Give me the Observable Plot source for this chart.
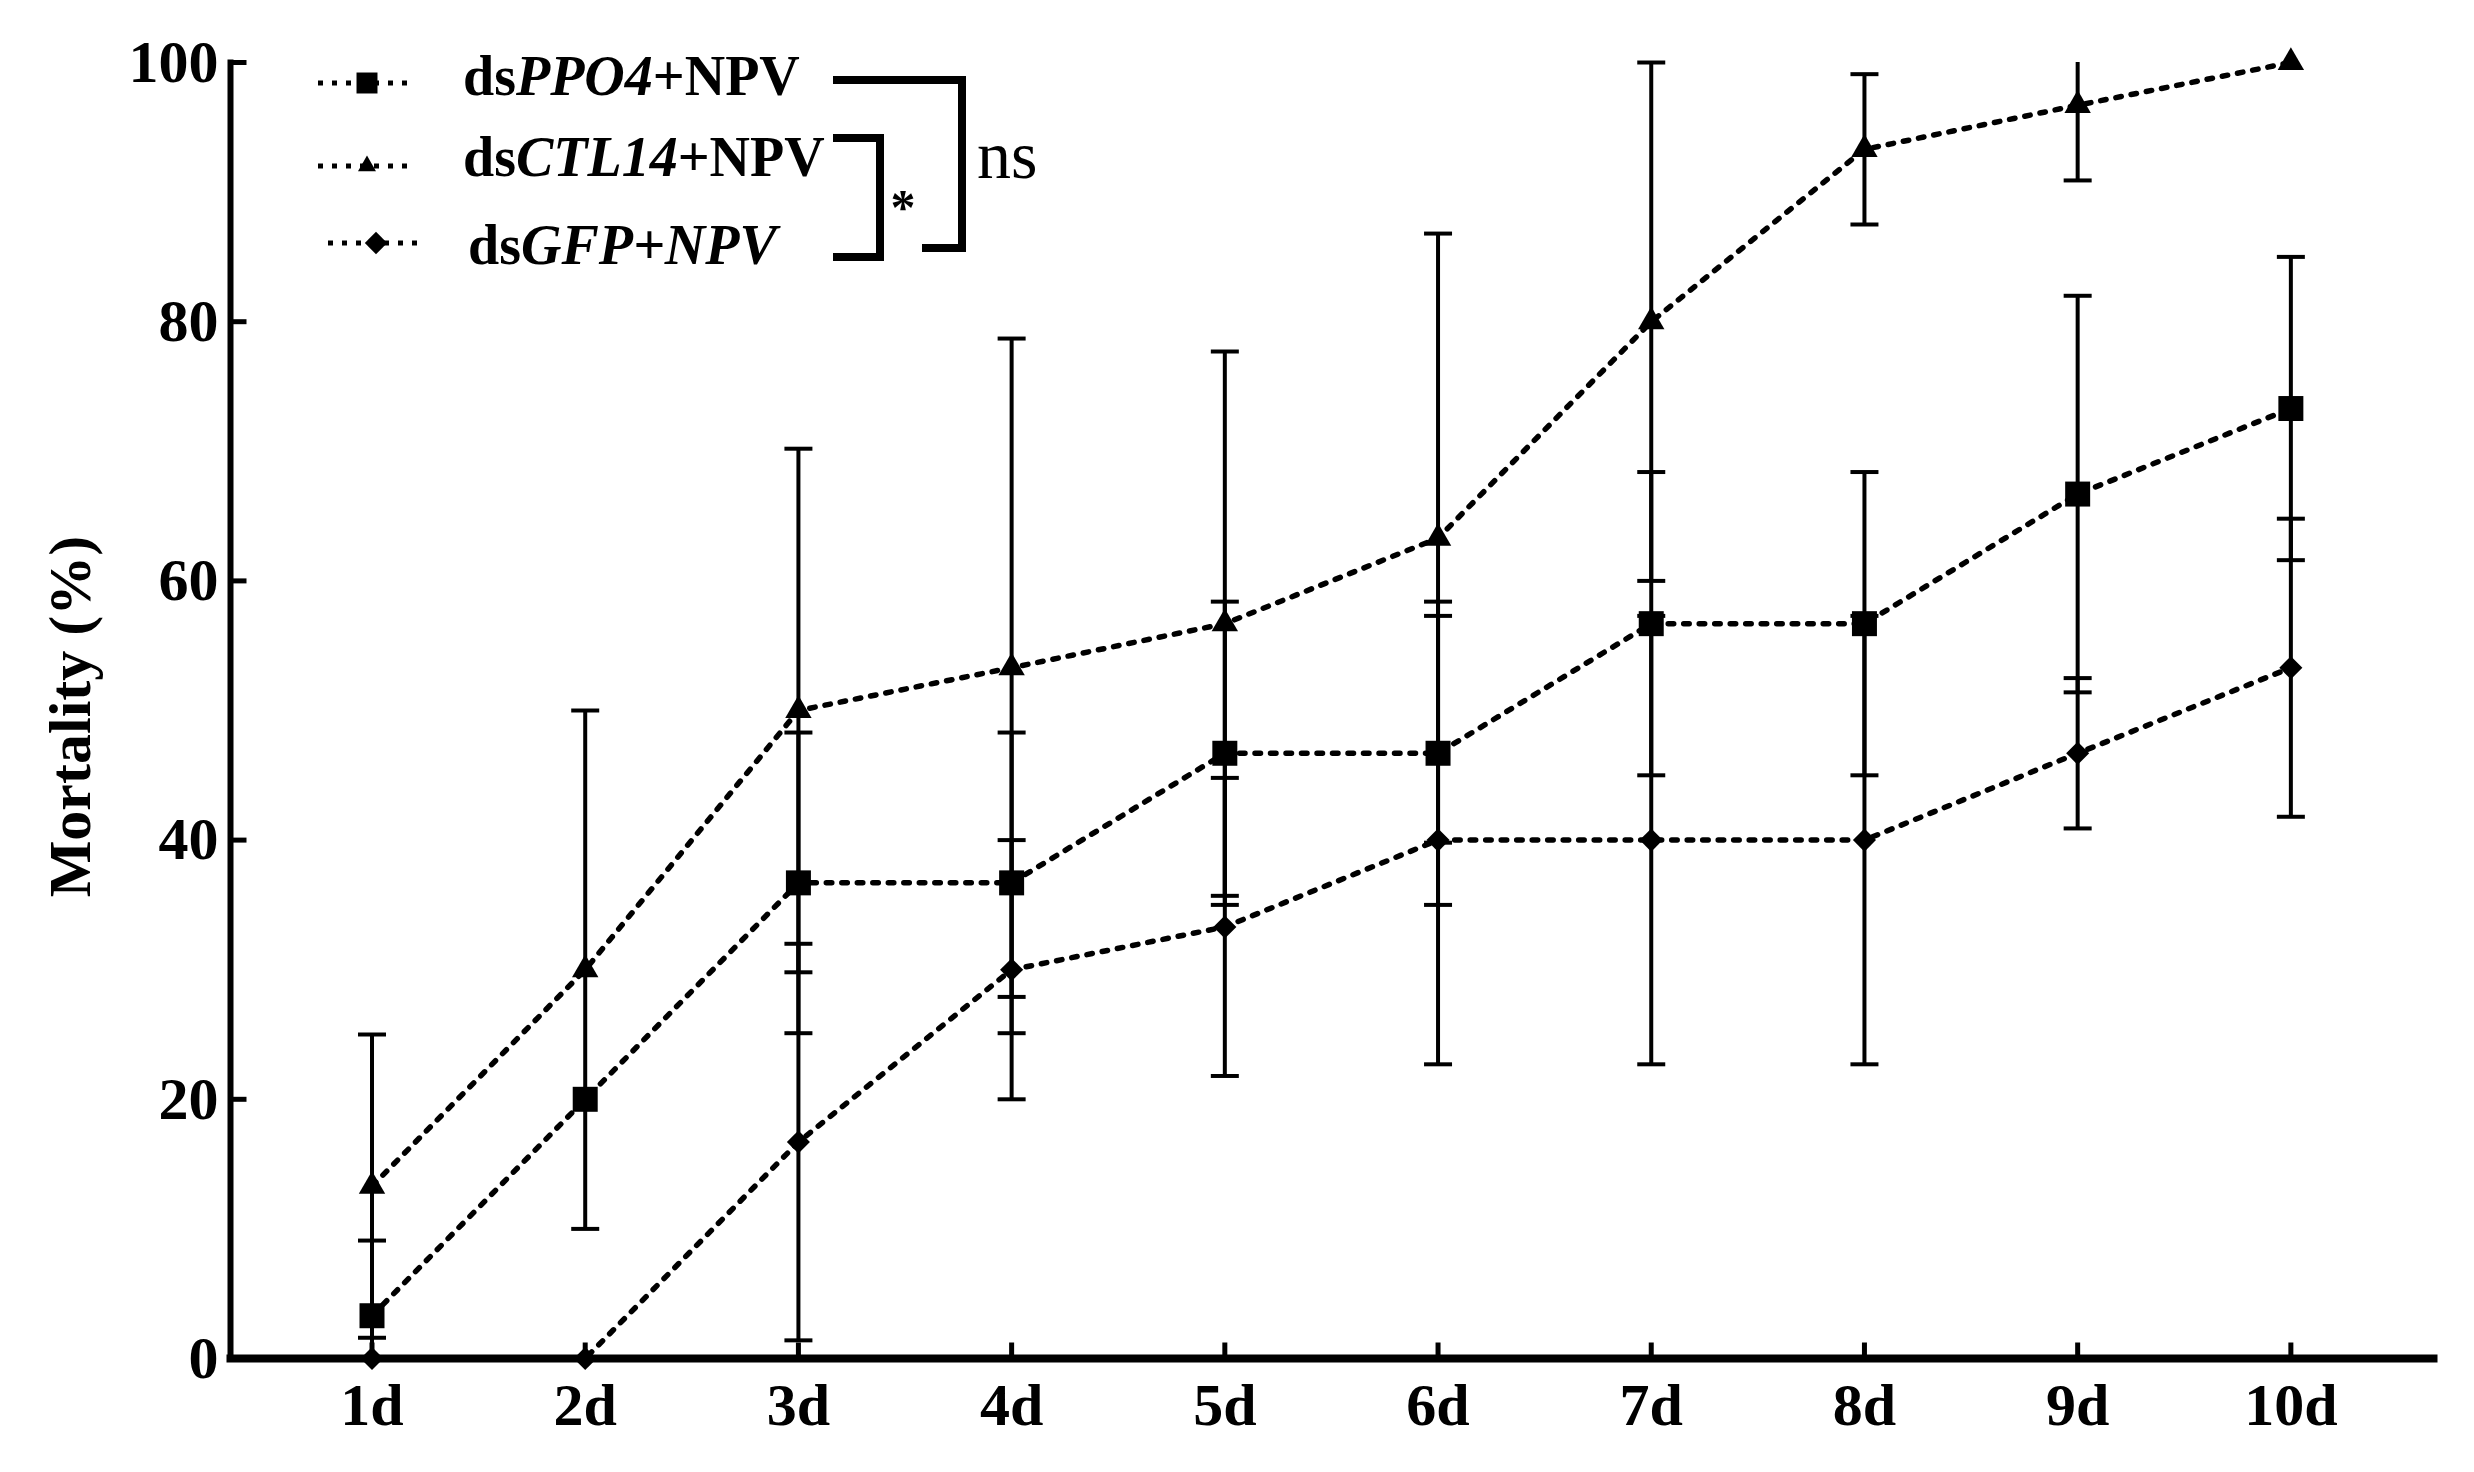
<!DOCTYPE html>
<html><head><meta charset="utf-8">
<script src="https://cdn.jsdelivr.net/npm/d3@7"></script>
<script src="https://cdn.jsdelivr.net/npm/@observablehq/plot@0.6"></script>
<style>html,body{margin:0;padding:0;background:#fff;overflow:hidden}</style>
</head><body><div id="chart"></div>
<script>
// ---- data ----
const days = [1, 2, 3, 4, 5, 6, 7, 8, 9, 10];
const dayLabels = ["1d", "2d", "3d", "4d", "5d", "6d", "7d", "8d", "9d", "10d"];
const yTicks = [0, 20, 40, 60, 80, 100];
const seriesNames = ["dsPPO4+NPV", "dsCTL14+NPV", "dsGFP+NPV"];
const ppo4Mean = [3.3, 20, 36.7, 36.7, 46.7, 46.7, 56.7, 56.7, 66.7, 73.3];
const ppo4Err  = [5.8, 0, 11.6, 11.6, 11.7, 11.7, 11.7, 11.7, 15.3, 11.7];
const ctl14Mean = [13.3, 30, 50, 53.3, 56.7, 63.3, 80, 93.3, 96.7, 100];
const ctl14Err  = [11.7, 20, 20.2, 25.4, 21, 23.5, 20, 5.8, 5.8, 0];
const gfpMean = [0, 0, 16.7, 30, 33.3, 40, 40, 40, 46.7, 53.3];
const gfpErr  = [0, 0, 15.3, 10, 11.5, 17.3, 17.3, 17.3, 5.8, 11.5];
const yTitle = "Mortality (%)";

// ---- table built from arrays ----
const means = [ppo4Mean, ctl14Mean, gfpMean];
const errs = [ppo4Err, ctl14Err, gfpErr];
const rows = [];
seriesNames.forEach((s, si) => {
  days.forEach((d, i) => {
    const v = means[si][i], e = errs[si][i];
    rows.push({series: s, day: d, value: v, err: e,
      lo: Math.max(0, v - e), hi: Math.min(100, v + e),
      loCap: e > 0 && v - e >= 0, hiCap: e > 0 && v + e <= 100});
  });
});
const withErr = rows.filter(r => r.err > 0);

const capSym = {draw(ctx) { ctx.moveTo(-14, 0); ctx.lineTo(14, 0); }};
const yTickSym = {draw(ctx) { ctx.moveTo(0, 0); ctx.lineTo(16, 0); }};
const xTickSym = {draw(ctx) { ctx.moveTo(0, 0); ctx.lineTo(0, -16); }};
const font = "Liberation Serif";

const chart = Plot.plot({
  width: 2474, height: 1472,
  marginLeft: 230, marginRight: 41, marginTop: 62, marginBottom: 114,
  x: {type: "linear", domain: [0.3363, 10.669]},
  y: {domain: [0, 100]},
  style: {fontFamily: font, fontSize: "60px", fontWeight: "bold", color: "black", background: "white"},
  marks: [
    Plot.ruleX(withErr, {x: "day", y1: "lo", y2: "hi", stroke: "black", strokeWidth: 4}),
    Plot.dot(withErr.filter(r => r.hiCap), {x: "day", y: "hi", symbol: capSym, fill: "none", stroke: "black", strokeWidth: 4}),
    Plot.dot(withErr.filter(r => r.loCap), {x: "day", y: "lo", symbol: capSym, fill: "none", stroke: "black", strokeWidth: 4}),
    Plot.line(rows, {x: "day", y: "value", z: "series", stroke: "black", strokeWidth: 5.5, strokeDasharray: "5.5,10"}),
    Plot.dot(rows.filter(r => r.series === seriesNames[0]), {x: "day", y: "value", symbol: "square", r: 14.1, fill: "black"}),
    Plot.dot(rows.filter(r => r.series === seriesNames[1]), {x: "day", y: "value", symbol: "triangle", r: 9.8, fill: "black"}),
    Plot.dot(rows.filter(r => r.series === seriesNames[2]), {x: "day", y: "value", symbol: "diamond2", r: 10.4, fill: "black"}),
    Plot.frame({anchor: "left", stroke: "black", strokeWidth: 6}),
    Plot.frame({anchor: "bottom", stroke: "black", strokeWidth: 8}),
    Plot.dot(yTicks, {y: d => d, frameAnchor: "left", symbol: yTickSym, fill: "none", stroke: "black", strokeWidth: 5}),
    Plot.dot(days, {x: d => d, frameAnchor: "bottom", symbol: xTickSym, fill: "none", stroke: "black", strokeWidth: 5}),
    Plot.axisY({ticks: yTicks, tickSize: 0, tickPadding: 12, label: null, fontSize: 60, fontWeight: "bold"}),
    Plot.axisX({ticks: days, tickFormat: d => dayLabels[days.indexOf(d)], tickSize: 0, tickPadding: 24, label: null, fontSize: 60, fontWeight: "bold"}),
    Plot.text([yTitle], {text: d => d, frameAnchor: "left", textAnchor: "middle", lineAnchor: "middle", dx: -160, dy: 6, rotate: -90, fontSize: 60, fontWeight: "bold", fill: "black"})
  ]
});
document.getElementById("chart").appendChild(chart);

// ---- legend & significance brackets (overlay) ----
const g = d3.select(chart).append("g").attr("font-family", font).attr("fill", "black").attr("text-anchor", "start");
const legend = [
  {parts: [["ds", "normal"], ["PPO4", "italic"], ["+NPV", "normal"]], tx: 463, ty: 95, my: 83, mx: 367, lx1: 318, lx2: 412, sym: d3.symbolSquare, size: 440},
  {parts: [["ds", "normal"], ["CTL14", "italic"], ["+NPV", "normal"]], tx: 463, ty: 176, my: 166, mx: 367, lx1: 318, lx2: 412, sym: d3.symbolTriangle, size: 140},
  {parts: [["ds", "normal"], ["GFP+NPV", "italic"]], tx: 468, ty: 264, my: 243, mx: 376, lx1: 328, lx2: 417, sym: d3.symbolDiamond2, size: 320}
];
legend.forEach((L, i) => {
  g.append("line").attr("x1", L.lx1).attr("x2", L.lx2).attr("y1", L.my).attr("y2", L.my)
    .attr("stroke", "black").attr("stroke-width", 5).attr("stroke-dasharray", "5,9");
  g.append("path").attr("d", d3.symbol(L.sym, L.size)()).attr("transform", `translate(${L.mx},${L.my})`).attr("fill", "black");
  const t = g.append("text").attr("x", L.tx).attr("y", L.ty).attr("font-size", 56).attr("font-weight", "bold").attr("text-anchor", "start");
  L.parts.forEach(([s, st]) => t.append("tspan").attr("font-style", st).text(s));
});
g.append("path").attr("d", "M833,80H962V248H922").attr("fill", "none").attr("stroke", "black").attr("stroke-width", 8);
g.append("path").attr("d", "M833,138H880V257H833").attr("fill", "none").attr("stroke", "black").attr("stroke-width", 8);
g.append("text").attr("x", 977).attr("y", 178).attr("font-size", 68).attr("font-weight", "normal").attr("text-anchor", "start").text("ns");
g.append("text").attr("x", 903).attr("y", 224).attr("font-size", 50).attr("font-weight", "bold").attr("text-anchor", "middle").text("*");
</script>
</body></html>
